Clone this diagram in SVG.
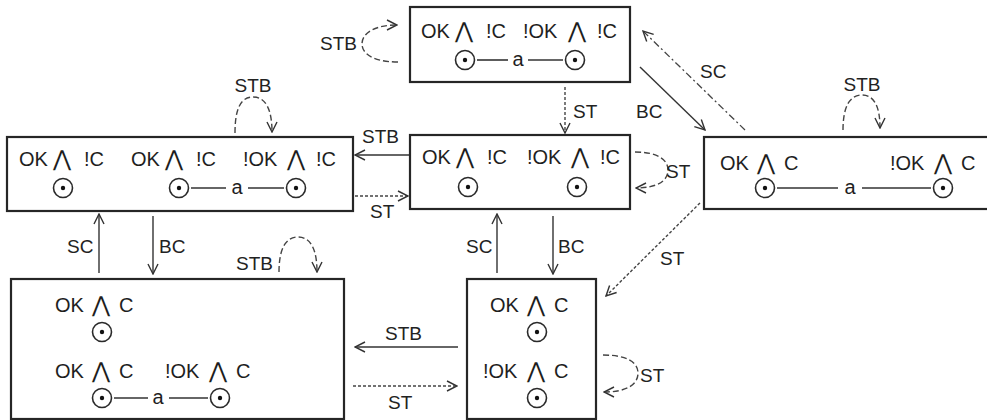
<svg xmlns="http://www.w3.org/2000/svg" width="987" height="420" viewBox="0 0 987 420">
<style>
.box{fill:#fff;stroke:#262626;stroke-width:2.2}
.t{font-family:"Liberation Sans","DejaVu Sans",Arial,sans-serif;font-size:20px;fill:#1e1e1e}
.and{font-family:"DejaVu Sans","Liberation Sans",sans-serif;font-size:22px;text-anchor:middle}
.lb{font-family:"Liberation Sans","DejaVu Sans",Arial,sans-serif;font-size:19px;fill:#222}
.st{fill:none;stroke:#2a2a2a;stroke-width:1.6}
.dot{fill:#111}
.ln{stroke:#333;stroke-width:1.6}
.solid{fill:none;stroke:#333;stroke-width:1.4;marker-end:url(#ah)}
.dash{fill:none;stroke:#444;stroke-width:1.4;stroke-dasharray:3 2;marker-end:url(#ah)}
.ldash{fill:none;stroke:#444;stroke-width:1.4;stroke-dasharray:6 3;marker-end:url(#ah)}
.dd{fill:none;stroke:#444;stroke-width:1.3;stroke-dasharray:7 3 2 3;marker-end:url(#ah)}
</style>
<defs>
<marker id="ah" viewBox="0 0 12 12" refX="11" refY="6" markerWidth="12" markerHeight="12" markerUnits="userSpaceOnUse" orient="auto">
<path d="M1,1 L11,6 L1,11" fill="none" stroke="#333" stroke-width="1.4"/>
</marker>
</defs>

<g id="connectors">
<path class="ldash" d="M398,62 C372,62 362,53 362,44 C362,33 375,25 397,25"/>
<text class="lb" x="357" y="50" text-anchor="end">STB</text>
<path class="dash" d="M565,87 L565,133"/>
<text class="lb" x="573" y="118">ST</text>
<path class="solid" d="M640,67 L705,130"/>
<text class="lb" x="636" y="118">BC</text>
<path class="dd" d="M745,130 L643,31"/>
<text class="lb" x="700" y="78">SC</text>
<path class="ldash" d="M235,133 C235,110 240,97 253,97 C266,97 272,110 272,132"/>
<text class="lb" x="253" y="92" text-anchor="middle">STB</text>
<path class="solid" d="M410,155 L355,155"/>
<text class="lb" x="362" y="143">STB</text>
<path class="dash" d="M355,196 L408,196"/>
<text class="lb" x="370" y="218">ST</text>
<path class="ldash" d="M635,152 C658,152 668,160 668,170 C668,181 657,188 636,188"/>
<text class="lb" x="666" y="178">ST</text>
<path class="ldash" d="M843,130 C843,108 849,95 862,95 C875,95 880,108 880,128"/>
<text class="lb" x="862" y="91" text-anchor="middle">STB</text>
<path class="dash" d="M700,203 L606,296"/>
<text class="lb" x="660" y="265">ST</text>
<path class="solid" d="M99,273 L99,214"/>
<text class="lb" x="67" y="253">SC</text>
<path class="solid" d="M153,216 L153,274"/>
<text class="lb" x="159" y="253">BC</text>
<path class="ldash" d="M279,272 C279,250 285,237 298,237 C311,237 317,250 317,272"/>
<text class="lb" x="273" y="270" text-anchor="end">STB</text>
<path class="solid" d="M497,273 L497,214"/>
<text class="lb" x="466" y="253">SC</text>
<path class="solid" d="M553,216 L553,274"/>
<text class="lb" x="558" y="253">BC</text>
<path class="solid" d="M458,347 L355,347"/>
<text class="lb" x="385" y="340">STB</text>
<path class="dash" d="M353,386 L457,386"/>
<text class="lb" x="388" y="409">ST</text>
<path class="ldash" d="M603,355 C626,355 638,362 638,373 C638,385 626,392 604,392"/>
<text class="lb" x="640" y="382">ST</text>
</g>

<g id="node-top">
<rect class="box" x="410" y="7" width="220" height="75"/>
<text class="t" y="38"><tspan x="421">OK</tspan><tspan class="and" x="464">⋀</tspan><tspan x="486">!C</tspan></text>
<text class="t" y="38"><tspan x="523">!OK</tspan><tspan class="and" x="577">⋀</tspan><tspan x="597">!C</tspan></text>
<circle class="st" cx="465" cy="60" r="9.5"/><circle class="dot" cx="465" cy="60" r="2.2"/>
<circle class="st" cx="575" cy="60" r="9.5"/><circle class="dot" cx="575" cy="60" r="2.2"/>
<line class="ln" x1="477" y1="60" x2="508" y2="60"/>
<text class="t" x="518" y="66" text-anchor="middle">a</text>
<line class="ln" x1="528" y1="60" x2="563" y2="60"/>
</g>

<g id="node-left">
<rect class="box" x="7" y="137" width="346" height="74"/>
<text class="t" y="166"><tspan x="19">OK</tspan><tspan class="and" x="62">⋀</tspan><tspan x="84">!C</tspan></text>
<text class="t" y="166"><tspan x="131">OK</tspan><tspan class="and" x="174">⋀</tspan><tspan x="196">!C</tspan></text>
<text class="t" y="166"><tspan x="243">!OK</tspan><tspan class="and" x="296">⋀</tspan><tspan x="316">!C</tspan></text>
<circle class="st" cx="63" cy="188" r="9.5"/><circle class="dot" cx="63" cy="188" r="2.2"/>
<circle class="st" cx="179" cy="188" r="9.5"/><circle class="dot" cx="179" cy="188" r="2.2"/>
<circle class="st" cx="296" cy="188" r="9.5"/><circle class="dot" cx="296" cy="188" r="2.2"/>
<line class="ln" x1="191" y1="188" x2="226" y2="188"/>
<text class="t" x="237" y="194" text-anchor="middle">a</text>
<line class="ln" x1="248" y1="188" x2="284" y2="188"/>
</g>

<g id="node-middle">
<rect class="box" x="410" y="135" width="220" height="74"/>
<text class="t" y="164"><tspan x="422">OK</tspan><tspan class="and" x="465">⋀</tspan><tspan x="487">!C</tspan></text>
<text class="t" y="164"><tspan x="527">!OK</tspan><tspan class="and" x="580">⋀</tspan><tspan x="600">!C</tspan></text>
<circle class="st" cx="468" cy="187" r="9.5"/><circle class="dot" cx="468" cy="187" r="2.2"/>
<circle class="st" cx="577" cy="187" r="9.5"/><circle class="dot" cx="577" cy="187" r="2.2"/>
</g>

<g id="node-right">
<rect class="box" x="704" y="137" width="300" height="72"/>
<text class="t" y="170"><tspan x="720">OK</tspan><tspan class="and" x="766">⋀</tspan><tspan x="784">C</tspan></text>
<text class="t" y="170"><tspan x="890">!OK</tspan><tspan class="and" x="943">⋀</tspan><tspan x="961">C</tspan></text>
<circle class="st" cx="765" cy="188" r="9.5"/><circle class="dot" cx="765" cy="188" r="2.2"/>
<circle class="st" cx="943" cy="188" r="9.5"/><circle class="dot" cx="943" cy="188" r="2.2"/>
<line class="ln" x1="777" y1="188" x2="838" y2="188"/>
<text class="t" x="850" y="194" text-anchor="middle">a</text>
<line class="ln" x1="862" y1="188" x2="931" y2="188"/>
</g>

<g id="node-bottom-left">
<rect class="box" x="11" y="279" width="333" height="140"/>
<text class="t" y="312"><tspan x="55">OK</tspan><tspan class="and" x="101">⋀</tspan><tspan x="119">C</tspan></text>
<circle class="st" cx="102" cy="332" r="9.5"/><circle class="dot" cx="102" cy="332" r="2.2"/>
<text class="t" y="378"><tspan x="55">OK</tspan><tspan class="and" x="101">⋀</tspan><tspan x="119">C</tspan></text>
<text class="t" y="378"><tspan x="165">!OK</tspan><tspan class="and" x="218">⋀</tspan><tspan x="236">C</tspan></text>
<circle class="st" cx="102" cy="398" r="9.5"/><circle class="dot" cx="102" cy="398" r="2.2"/>
<circle class="st" cx="220" cy="398" r="9.5"/><circle class="dot" cx="220" cy="398" r="2.2"/>
<line class="ln" x1="114" y1="398" x2="148" y2="398"/>
<text class="t" x="158" y="404" text-anchor="middle">a</text>
<line class="ln" x1="169" y1="398" x2="208" y2="398"/>
</g>

<g id="node-bottom-middle">
<rect class="box" x="467" y="279" width="129" height="140"/>
<text class="t" y="312"><tspan x="490">OK</tspan><tspan class="and" x="536">⋀</tspan><tspan x="554">C</tspan></text>
<circle class="st" cx="537" cy="332" r="9.5"/><circle class="dot" cx="537" cy="332" r="2.2"/>
<text class="t" y="378"><tspan x="483">!OK</tspan><tspan class="and" x="536">⋀</tspan><tspan x="554">C</tspan></text>
<circle class="st" cx="537" cy="398" r="9.5"/><circle class="dot" cx="537" cy="398" r="2.2"/>
</g>
</svg>
